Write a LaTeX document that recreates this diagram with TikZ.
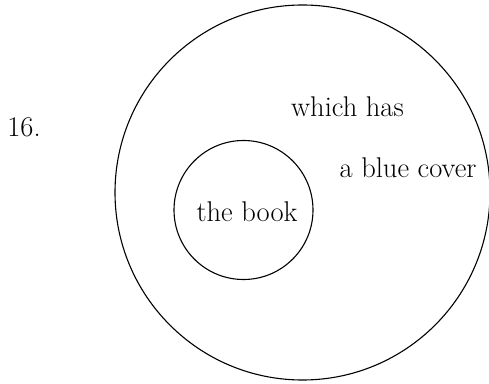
\documentclass[tikz,border=0pt]{standalone}
\begin{document}
\begin{tikzpicture}[x=1pt,y=1pt,
  ring/.style={draw,circle,inner sep=0pt,line width=1.1pt},
  lbl/.style={inner sep=0pt,anchor=base,font=\fontsize{28.5}{34}\selectfont}]
\useasboundingbox (0,0) rectangle (489,383);
\node[ring,minimum size=375pt] (outer) at (302.5,190.5) {};
\node[ring,minimum size=139pt] (inner) at (243.5,173) {};
\node[lbl] (num) at (24,246) {16.};
\node[lbl] (which) at (347.5,266) {which has};
\node[lbl] (cover) at (408,205) {a blue cover};
\node[lbl] (book) at (247,162) {the book};
\end{tikzpicture}
\end{document}
